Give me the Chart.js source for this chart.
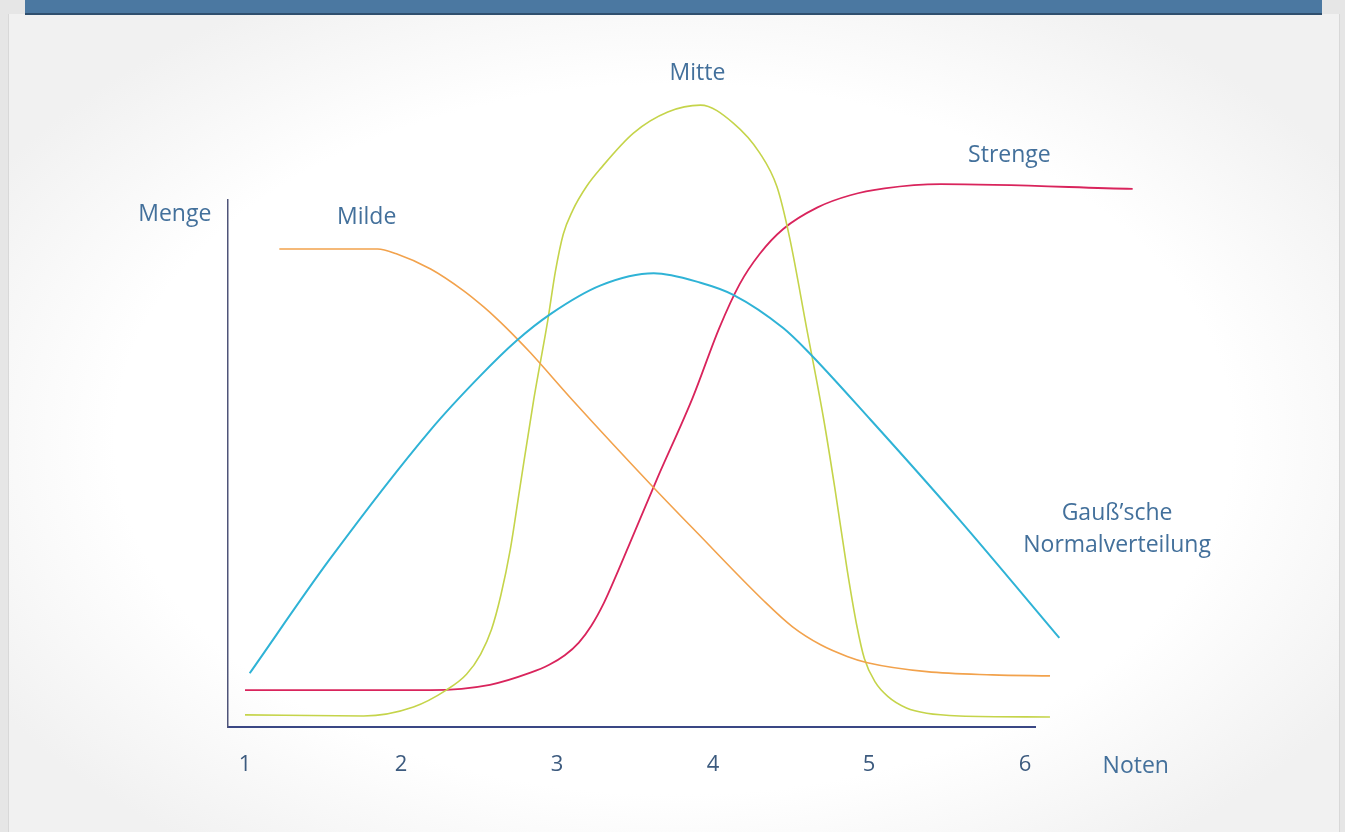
<!DOCTYPE html>
<html>
<head>
<meta charset="utf-8">
<script src="https://cdn.jsdelivr.net/npm/chart.js@4"></script>
<style>
  html, body { margin: 0; padding: 0; width: 1345px; height: 832px; overflow: hidden; background: #e6e6e6; }
  .panel {
    position: absolute; left: 8px; top: 14px; width: 1330px; height: 818px;
    background: radial-gradient(ellipse 60% 62% at 50% 52%, #ffffff 70%, #f1f1f1 100%);
    border-left: 1px solid #d8d8d8; border-right: 1px solid #d8d8d8;
  }
  .banner {
    position: absolute; left: 25px; top: 0; width: 1297px; height: 13px;
    background: #4b78a1; border-bottom: 2px solid #2f4f6e;
  }
  canvas { position: absolute; left: 0; top: 0; }
</style>
</head>
<body>
<div class="panel"></div>
<div class="banner"></div>
<canvas id="c" width="1345" height="832"></canvas>
<script>
// Noten on the x axis, "Menge" on the y axis (arbitrary units, 0..100 = axis height)
const noten = [1, 2, 3, 4, 5, 6];

const milde = [
  [1.22, 90.7], [1.85, 90.7], [1.97, 89.8], [2.19, 86.9], [2.40, 82.8], [2.53, 79.7],
  [2.62, 77.3], [2.74, 73.8], [2.83, 71.0], [3.10, 62.0], [3.62, 45.4], [3.90, 36.8],
  [4.32, 24.1], [4.51, 19.0], [4.69, 15.6], [4.86, 13.4], [4.99, 12.2], [5.37, 10.5],
  [5.79, 9.9], [6.16, 9.7],
];
const gauss = [
  [1.03, 10.2], [1.54, 31.7], [2.19, 56.4], [2.50, 66.4], [2.74, 73.3], [2.96, 78.4],
  [3.28, 83.8], [3.62, 86.1], [3.92, 84.3], [4.13, 82.0], [4.45, 75.7], [4.60, 71.5],
  [5.01, 58.3], [5.58, 39.3], [6.22, 16.9],
];
const mitte = [
  [1.00, 2.3], [1.76, 2.1], [2.08, 3.8], [2.29, 7.0], [2.42, 10.0], [2.51, 13.8],
  [2.58, 18.5], [2.64, 25.0], [2.70, 33.6], [2.76, 45.0], [2.85, 62.0], [2.94, 77.0],
  [2.99, 86.5], [3.04, 93.5], [3.10, 98.0], [3.19, 102.6], [3.28, 106.0], [3.49, 112.7],
  [3.71, 116.7], [3.92, 118.0], [4.13, 114.6], [4.30, 108.9], [4.41, 102.5], [4.49, 93.0],
  [4.60, 75.7], [4.71, 58.3], [4.78, 45.5], [4.86, 29.8], [4.92, 19.5], [4.97, 13.0],
  [5.04, 8.5], [5.12, 5.8], [5.24, 3.6], [5.37, 2.6], [5.58, 2.1], [6.16, 1.9],
];
const strenge = [
  [1.00, 7.0], [2.19, 7.0], [2.57, 8.0], [2.83, 10.3], [2.95, 11.8], [3.05, 13.6],
  [3.14, 16.0], [3.22, 19.2], [3.30, 23.5], [3.38, 28.8], [3.48, 35.8], [3.64, 47.0],
  [3.87, 62.5], [4.04, 75.7], [4.17, 84.0], [4.30, 89.8], [4.45, 94.5], [4.67, 98.6],
  [4.88, 100.9], [5.10, 102.2], [5.46, 103.0], [6.69, 102.1],
];

const FONT = "'Open Sans', 'Noto Sans', sans-serif";
const TEXT = '#43709b';

// free-standing captions, anchored in data units
const captions = [
  { text: 'Mitte', x: 3.90, y: 124.1 },
  { text: 'Strenge', x: 5.90, y: 108.5 },
  { text: 'Milde', x: 1.78, y: 96.6 },
  { text: 'Menge', x: 0.55, y: 97.3 },
  { text: 'Gauß\u2019sche', x: 6.59, y: 40.6 },
  { text: 'Normalverteilung', x: 6.59, y: 34.5 },
  { text: 'Noten', x: 6.71, y: -7.4 },
];

function toPts(arr) {
  return arr.map(([x, y]) => ({ x, y }));
}
function line(label, arr, color, width) {
  return {
    label,
    data: toPts(arr),
    borderColor: color,
    borderWidth: width,
    pointRadius: 0,
    fill: false,
    cubicInterpolationMode: 'monotone',
    clip: false,
  };
}

const captionPlugin = {
  id: 'captions',
  afterDatasetsDraw(chart) {
    const { ctx, scales } = chart;
    ctx.save();
    ctx.fillStyle = TEXT;
    ctx.font = '23px ' + FONT;
    ctx.textAlign = 'center';
    ctx.textBaseline = 'middle';
    captions.forEach((c) => {
      ctx.fillText(c.text, scales.x.getPixelForValue(c.x), scales.y.getPixelForValue(c.y));
    });
    ctx.restore();
  },
};

new Chart(document.getElementById('c'), {
  type: 'line',
  data: {
    datasets: [
      line('Gauß', gauss, '#2fb3d6', 2),
      line('Milde', milde, '#f2a24c', 1.6),
      line('Mitte', mitte, '#c5d44a', 1.6),
      line('Strenge', strenge, '#d9245c', 1.8),
    ],
  },
  plugins: [captionPlugin],
  options: {
    responsive: false,
    animation: false,
    layout: { padding: { left: 228, right: 310, top: 200, bottom: 45 } },
    plugins: { legend: { display: false }, tooltip: { enabled: false } },
    scales: {
      x: {
        type: 'linear',
        min: 0.891,
        max: 6.064,
        grid: { display: false },
        border: { color: '#3a4784', width: 2 },
        afterBuildTicks: (s) => {
          s.ticks = noten.map((v) => ({ value: v }));
        },
        afterFit: (s) => {
          s.height = 60;
        },
        ticks: {
          padding: 17,
          color: '#3c5a7e',
          font: { family: FONT, size: 22 },
          callback: (v) => String(v),
        },
      },
      y: {
        min: 0,
        max: 100,
        grid: { display: false },
        ticks: { display: false },
        border: { color: '#4f5479', width: 1.5 },
        afterFit: (s) => {
          s.width = 0;
        },
      },
    },
  },
});
</script>
</body>
</html>
